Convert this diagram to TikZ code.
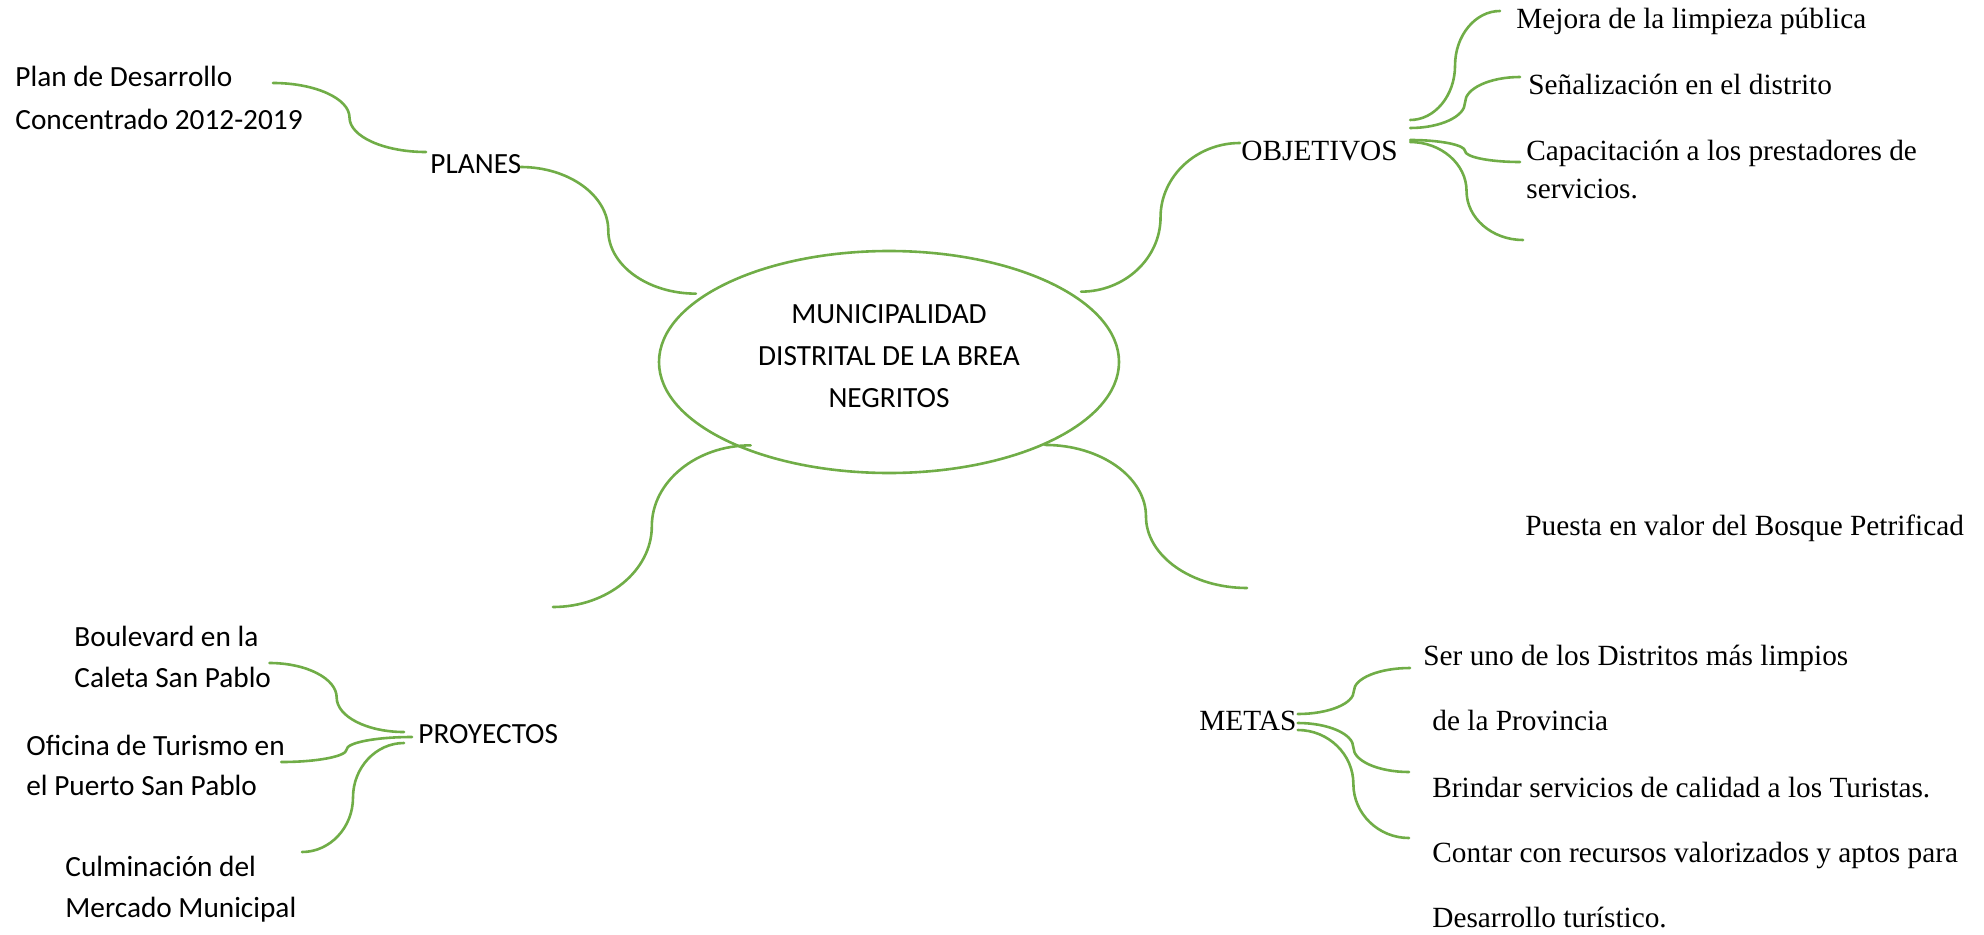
\documentclass[tikz,border=0pt]{standalone}
\usepackage{fontspec}
\setmainfont{Liberation Serif}
\newfontfamily\calibri{Carlito}
\usetikzlibrary{calc,shapes.geometric}
\definecolor{verde}{RGB}{112,173,71}

\tikzset{
	rama/.style={draw=verde, line width=1.3pt, line cap=round},
	llave/.style={to path={let \p1=(\tikztostart), \p2=(\tikztotarget), \p3=($(\p1)!0.5!(\p2)$) in
		.. controls ({\x1+0.55*(\x3-\x1)},\y1) and (\x3,{\y3-0.55*(\y3-\y1)}) .. (\p3)
		.. controls (\x3,{\y3+0.55*(\y2-\y3)}) and ({\x2-0.55*(\x2-\x3)},\y2) .. (\p2)}},
	txt/.style={inner sep=0pt, anchor=base west, font=\fontsize{14.65}{17}\selectfont},
	cal/.style={txt, font=\calibri\fontsize{14.65}{17}\selectfont},
}

\begin{document}
\begin{tikzpicture}[x=0.5pt,y=0.5pt]
	\useasboundingbox (0,0) rectangle (1984,934);
	
	\node[ellipse, draw=verde, line width=1.3pt, minimum width=230pt, minimum height=111pt] (mun) at (889,572) {};
	\node[cal, anchor=base] (mun1) at (889,611) {MUNICIPALIDAD};
	\node[cal, anchor=base] (mun2) at (889,569) {DISTRITAL DE LA BREA};
	\node[cal, anchor=base] (mun3) at (889,527) {NEGRITOS};
	
	\node[cal] (planes) at (430,761) {PLANES};
	\node[txt] (objetivos) at (1241,774) {OBJETIVOS};
	\node[cal] (proyectos) at (418,191) {PROYECTOS};
	\node[txt] (metas) at (1199,204) {METAS};
	
	\node[cal] (plan1) at (15,847) {Plan de Desarrollo};
	\node[cal] (plan2) at (15,805) {Concentrado 2012-2019};
	
	\node[txt] (obj1) at (1516,905) {Mejora de la limpieza pública};
	\node[txt] (obj2) at (1528,839) {Señalización en el distrito};
	\node[txt] (obj3) at (1526,774) {Capacitación a los prestadores de};
	\node[txt] (obj3b) at (1526,736) {servicios.};
	\node[txt] (puesta) at (1525,399) {Puesta en valor del Bosque Petrificad};
	
	\node[cal] (pro1) at (74,288) {Boulevard en la};
	\node[cal] (pro1b) at (74,247) {Caleta San Pablo};
	\node[cal] (pro2) at (26,179) {Oficina de Turismo en};
	\node[cal] (pro2b) at (26,139) {el Puerto San Pablo};
	\node[cal] (pro3) at (65,58) {Culminación del};
	\node[cal] (pro3b) at (65,17) {Mercado Municipal};
	
	\node[txt] (meta1) at (1423,269) {Ser uno de los Distritos más limpios};
	\node[txt] (meta1b) at (1432,204) {de la Provincia};
	\node[txt] (meta2) at (1432,137) {Brindar servicios de calidad a los Turistas.};
	\node[txt] (meta3) at (1432,72) {Contar con recursos valorizados y aptos para};
	\node[txt] (meta3b) at (1432,7) {Desarrollo turístico.};
	
	\coordinate (planfin) at (273,851);
	\coordinate (objfin) at (1523,694);
	\coordinate (izqfin) at (553,327);
	\coordinate (derfin) at (1247,346);
	\coordinate (culmfin) at (302,82);
	
	\draw[rama] (planfin) to[llave] ([shift={(-4,21)}]planes.base west);
	\draw[rama] ([shift={(-1,6)}]planes.base east) to[llave] ([shift={(-8,1)}]mun.160);
	\draw[rama] ([shift={(7,3)}]mun.20) to[llave] ([shift={(-1,17)}]objetivos.base west);
	\draw[rama] ([shift={(7,4)}]mun.211) to[llave] (izqfin);
	\draw[rama] (mun.-28) to[llave] (derfin);
	
	\draw[rama] ([shift={(12,40)}]objetivos.base east) to[llave] ([shift={(-16,18)}]obj1.base west);
	\draw[rama] ([shift={(12,32)}]objetivos.base east) to[llave] ([shift={(-8,18)}]obj2.base west);
	\draw[rama] ([shift={(12,20)}]objetivos.base east) to[llave] ([shift={(-6,-2)}]obj3.base west);
	\draw[rama] ([shift={(12,18)}]objetivos.base east) to[llave] (objfin);
	
	\draw[rama] ([shift={(-2,24)}]pro1b.base east) to[llave] ([shift={(-14,11)}]proyectos.base west);
	\draw[rama] ([shift={(-4,-7)}]pro2.base east) to[llave] ([shift={(-6,6)}]proyectos.base west);
	\draw[rama] (culmfin) to[llave] ([shift={(-14,0)}]proyectos.base west);
	
	\draw[rama] ([shift={(1,16)}]metas.base east) to[llave] ([shift={(-13,-3)}]meta1.base west);
	\draw[rama] ([shift={(1,7)}]metas.base east) to[llave] ([shift={(-23,25)}]meta2.base west);
	\draw[rama] ([shift={(1,0)}]metas.base east) to[llave] ([shift={(-23,24)}]meta3.base west);
	
\end{tikzpicture}
\end{document}
